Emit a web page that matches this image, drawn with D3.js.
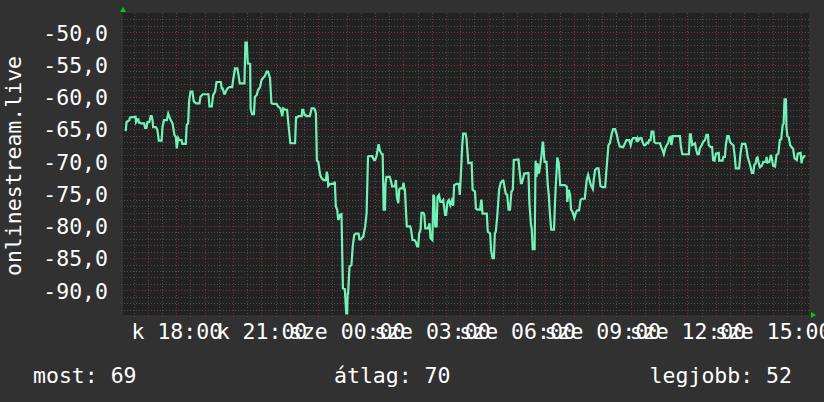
<!DOCTYPE html>
<html><head><meta charset="utf-8">
<script src="https://cdn.jsdelivr.net/npm/d3@7"></script>
<style>html,body{margin:0;padding:0;background:#313131;} svg{display:block}</style>
</head><body>
<svg id="c" width="824" height="402"></svg>
<script>
// time = minutes since Tuesday (kedd) 00:00
const times = [973,975,981,982,994,995,998,1000,1001,1003,1005,1012,1014,1017,1019,1023,1026,1028,1030,1031,1037,1040,1043,1049,1051,1054,1060,1063,1068,1072,1076,1079,1081,1084,1086,1091,1093,1100,1102,1105,1107,1110,1114,1117,1122,1129,1131,1136,1148,1150,1155,1158,1162,1165,1174,1176,1178,1181,1183,1185,1188,1192,1198,1200,1204,1209,1211,1214,1224,1226,1229,1231,1236,1237,1240,1244,1246,1250,1253,1257,1260,1264,1267,1271,1274,1278,1281,1285,1292,1295,1300,1304,1306,1310,1314,1318,1321,1331,
1333,1336,1338,1345,1346,1348,1351,1353,1355,1362,1366,1371,1373,1375,1377,1380,1384,1387,1391,1396,1398,1400,1401,1405,1412,1414,1415,1417,1420,1422,1426,1429,1432,1436,1439,1441,1442,1443,1446,1450,1453,1456,1459,1465,1467,1470,1474,1475,1479,1482,1485,1487,1494,1498,1500,1503,1507,1508,1510,1514,1516,1518,1521,1522,1524,1531,1534,1536,1542,1544,1546,1549,1551,1553,1558,1560,1562,1563,1565,1567,1574,1576,1579,1583,1586,1589,1591,1593,1596,1598,1602,1604,1606,1612,1615,1617,1621,1623,1625,1627,1630,1632,1635,1638,1641,1644,1648,1650,1653,1656,1659,1662,1665,1667,1672,1677,1679,1681,1684,1686,1691,1693,1697,1704,
1706,1711,1713,1716,1722,1724,1725,1727,1736,1738,1743,1745,1748,1751,1753,1755,1758,1762,1765,1769,1771,1773,1776,1779,1782,1785,1788,1791,1793,1803,1805,1808,1810,1813,1815,1824,1826,1829,1831,1833,1837,1839,1841,1843,1846,1848,1852,1854,1855,1858,1862,1865,1867,1869,1872,1878,1880,1882,1885,1888,1891,1901,1905,1906,1909,1912,1914,1917,1921,1924,1927,1931,1934,1937,1943,1947,1950,1953,1956,1960,1962,1965,1968,1972,1974,1976,1980,1986,1989,1993,1996,2000,2003,2007,2010,2014,2017,2024,2028,2031,2037,2040,2043,2045,2051,2053,2055,2057,
2060,2063,2065,2068,2071,2074,2077,2079,2082,2084,2088,2090,2093,2102,2104,2107,2110,2113,2116,2119,2122,2124,2126,2129,2144,2146,2149,2163,2165,2167,2170,2176,2178,2181,2184,2186,2190,2193,2197,2200,2203,2205,2209,2212,2214,2217,2220,2226,2227,2234,2236,2239,2241,2244,2247,2250,2252,2257,2260,2262,2269,2272,2275,2282,2285,2287,2291,2293,2296,2299,2301,2304,2306,2308,2310,2313,2317,2320,2326,2327,2329,2333,2336,2338,2341,2345,2348,2352,2355,2358,2361,2363,2365,2368,2369,2371,2374,2377,2380,2383,2386,2391,2393,2399,2401,2403,2405,2407,2409];
const values = [-65.3,-63.9,-63.6,-63.2,-63.1,-63.9,-63.5,-63.5,-64.0,-64.0,-64.1,-64.1,-64.8,-64.8,-63.9,-63.9,-63.0,-63.0,-63.7,-64.7,-64.7,-65.1,-66.8,-66.8,-64.6,-63.6,-63.6,-62.6,-63.6,-64.1,-65.9,-66.2,-68.0,-66.4,-66.7,-66.7,-67.3,-67.3,-64.4,-64.1,-60.7,-59.2,-59.2,-60.7,-61.0,-61.0,-60.0,-59.6,-59.6,-61.5,-61.5,-59.7,-59.2,-57.7,-57.7,-58.7,-58.7,-59.5,-59.5,-59.1,-58.7,-58.5,-58.5,-57.4,-55.6,-55.6,-56.4,-57.9,-57.9,-51.6,-51.6,-54.8,-54.9,-61.8,-62.7,-62.7,-60.0,-59.7,-58.9,-58.5,-57.4,-57.0,-56.8,-56.1,-56.1,-57.1,-61.0,-61.1,-61.1,-61.5,-61.8,-63.0,-61.8,-62.0,-62.0,-65.1,-67.2,-67.2,
-63.2,-63.2,-63.0,-63.0,-62.0,-62.0,-62.8,-62.8,-63.0,-63.0,-61.8,-61.8,-62.0,-62.6,-69.9,-70.1,-72.1,-72.6,-72.9,-72.9,-71.6,-72.4,-73.8,-73.5,-73.5,-73.3,-73.3,-77.0,-77.5,-79.1,-78.3,-78.2,-89.7,-89.8,-93.6,-93.6,-90.5,-90.5,-86.3,-86.1,-83.0,-81.4,-81.2,-81.2,-82.1,-82.1,-81.7,-81.7,-80.1,-78.1,-69.3,-69.2,-69.2,-69.8,-69.8,-69.2,-67.5,-67.5,-68.3,-68.9,-68.9,-77.5,-77.5,-73.4,-72.4,-72.4,-73.2,-73.9,-73.9,-72.9,-75.5,-76.5,-74.4,-74.2,-74.2,-73.3,-74.4,-74.4,-77.3,-80.1,-80.1,-80.6,-82.2,-82.2,-82.5,-83.2,-83.2,-81.2,-80.6,-78.0,-78.0,-78.3,-80.4,-80.4,-79.6,-81.9,-82.2,-75.2,-75.5,-80.1,-80.1,-75.5,-75.2,-76.3,-76.3,-76.0,-78.3,-78.3,-76.3,-76.0,-76.8,-76.1,-76.9,-73.7,-73.5,-73.5,-75.2,-72.4,-67.7,-65.7,-65.7,-66.4,-70.3,-70.2,
-74.4,-74.7,-77.3,-77.5,-77.5,-76.1,-76.1,-78.1,-78.1,-80.9,-81.2,-83.7,-85.0,-85.0,-81.2,-80.9,-78.6,-74.4,-73.4,-73.0,-73.0,-73.8,-75.0,-75.2,-77.5,-77.5,-74.7,-74.4,-69.8,-69.7,-71.3,-73.4,-73.4,-72.6,-71.9,-71.8,-76.5,-79.6,-80.6,-83.6,-83.6,-69.9,-72.4,-70.3,-71.9,-71.1,-68.8,-67.1,-67.1,-70.1,-70.1,-73.9,-75.2,-77.8,-80.6,-80.6,-76.5,-73.4,-69.4,-70.3,-73.7,-73.7,-73.9,-76.3,-74.4,-75.2,-77.5,-77.8,-78.8,-78.0,-77.6,-77.6,-76.0,-75.8,-75.8,-72.9,-72.1,-72.9,-73.7,-74.3,-72.8,-71.3,-71.1,-71.1,-72.4,-73.8,-74.0,-74.0,-71.1,-67.5,-67.2,-65.7,-65.0,-65.0,-65.7,-67.0,-67.7,-67.8,-67.2,-66.7,-66.7,-67.5,-66.6,-66.4,-66.4,-67.0,-66.4,-66.7,
-66.4,-66.4,-67.0,-67.5,-67.5,-67.1,-67.2,-66.7,-66.7,-65.4,-65.4,-67.0,-67.2,-67.2,-67.7,-68.2,-68.9,-68.0,-67.5,-67.2,-66.3,-66.2,-67.5,-66.1,-66.1,-67.7,-68.9,-68.9,-65.8,-65.8,-67.5,-67.2,-68.1,-68.9,-68.9,-68.0,-67.5,-67.0,-66.7,-65.9,-65.9,-67.5,-67.8,-67.8,-69.8,-69.9,-68.8,-68.7,-69.9,-69.9,-69.3,-69.3,-67.5,-66.1,-66.1,-67.0,-67.2,-67.5,-69.3,-71.1,-71.1,-68.8,-67.3,-67.3,-68.2,-69.3,-70.3,-70.8,-71.8,-71.8,-70.6,-70.3,-69.5,-69.4,-70.1,-70.9,-70.7,-70.1,-70.1,-69.3,-70.2,-70.1,-69.0,-69.5,-70.7,-70.8,-69.0,-68.8,-66.7,-66.6,-64.4,-64.2,-60.4,-60.4,-64.6,-66.1,-66.3,-67.5,-67.8,-68.0,-69.5,-69.8,-68.8,-68.7,-70.3,-69.4,-69.4,-69.2,-69.2];

const xTickValues = [1080,1260,1440,1620,1800,1980,2160,2340];
const xTickLabels = ["k 18:00","k 21:00","sze 00:00","sze 03:00","sze 06:00","sze 09:00","sze 12:00","sze 15:00"];
const yTickValues = [-90,-85,-80,-75,-70,-65,-60,-55,-50];
const yAxisTitle = "onlinestream.live";
const legendLabels = ["most: 69","átlag: 70","legjobb: 52"];
const timeDomain = [967.4, 2416.7];
const valueDomain = [-93.83, -47.0];

const FONT = "'DejaVu Sans Mono', monospace";
const FS = "21.5px";
const svg = d3.select("#c");
const plot = {l:123, r:809, t:13, b:315};

const x = d3.scaleLinear().domain(timeDomain).range([plot.l, plot.r]);
const y = d3.scaleLinear().domain(valueDomain).range([plot.b, plot.t]);
const loc = d3.formatLocale({decimal:",", thousands:" ", grouping:[3], currency:["",""], minus:"-"});
const fmt = loc.format(".1f");

svg.append("rect").attr("width",824).attr("height",402).attr("fill","#313131");
svg.append("rect").attr("x",plot.l).attr("y",plot.t).attr("width",plot.r-plot.l).attr("height",plot.b-plot.t).attr("fill","#222222");

const g = svg.append("g");
const minorX = d3.range(Math.ceil(timeDomain[0]/30)*30, timeDomain[1], 30).filter(t=>t%60!==0);
const majorX = d3.range(Math.ceil(timeDomain[0]/60)*60, timeDomain[1], 60);
const minorY = d3.range(Math.ceil(valueDomain[0]), valueDomain[1], 1).filter(v=>v%5!==0);
const majorY = d3.range(Math.ceil(valueDomain[0]/5)*5, valueDomain[1], 5);
const minorCol = "#4d4d4d", majorCol = "#7a3535";
g.selectAll(".mx").data(minorX).join("line").attr("x1",d=>Math.round(x(d))+0.5).attr("x2",d=>Math.round(x(d))+0.5)
  .attr("y1",plot.t).attr("y2",plot.b+2).attr("stroke",minorCol).attr("stroke-dasharray","1,2");
g.selectAll(".my").data(minorY).join("line").attr("y1",d=>Math.round(y(d))+0.5).attr("y2",d=>Math.round(y(d))+0.5)
  .attr("x1",plot.l-2).attr("x2",plot.r).attr("stroke",minorCol).attr("stroke-dasharray","1,2");
g.selectAll(".Mx").data(majorX).join("line").attr("x1",d=>Math.round(x(d))+0.5).attr("x2",d=>Math.round(x(d))+0.5)
  .attr("y1",plot.t).attr("y2",plot.b+2).attr("stroke",majorCol).attr("stroke-dasharray","1,2");
g.selectAll(".My").data(majorY).join("line").attr("y1",d=>Math.round(y(d))+0.5).attr("y2",d=>Math.round(y(d))+0.5)
  .attr("x1",plot.l-2).attr("x2",plot.r).attr("stroke",majorCol).attr("stroke-dasharray","1,2");

const pts = times.map((t,i)=>[t, values[i]]);
svg.append("path").datum(pts)
  .attr("d", d3.line().x(d=>x(d[0])).y(d=>y(d[1])))
  .attr("fill","none").attr("stroke","#72f2b8").attr("stroke-width",2.2).attr("stroke-linejoin","miter");

svg.append("path").attr("d",`M${plot.l-3},${plot.t-1}L${plot.l+3},${plot.t-1}L${plot.l},${plot.t-6}Z`).attr("fill","#00d000");
svg.append("path").attr("d",`M${plot.r+2},${plot.b-3}L${plot.r+2},${plot.b+3}L${plot.r+7},${plot.b}Z`).attr("fill","#00d000");

const xAxis = d3.axisBottom(x).tickValues(xTickValues).tickFormat((d,i)=>xTickLabels[i]).tickSize(0).tickPadding(0);
const xa = svg.append("g").attr("transform",`translate(0,${plot.b})`).call(xAxis);
xa.select(".domain").remove();
xa.selectAll("text").attr("y",24).attr("dy",0).attr("fill","#ffffff").style("font-family",FONT).style("font-size",FS);

const yAxis = d3.axisLeft(y).tickValues(yTickValues).tickFormat(fmt).tickSize(0).tickPadding(0);
const ya = svg.append("g").attr("transform",`translate(108,0)`).call(yAxis);
ya.select(".domain").remove();
ya.selectAll("text").attr("x",0).attr("dy","0.36em").attr("fill","#ffffff").style("font-family",FONT).style("font-size",FS);

svg.append("text").attr("transform","translate(21,166) rotate(-90)").attr("text-anchor","middle")
  .attr("fill","#ffffff").style("font-family",FONT).style("font-size",FS).text(yAxisTitle);

const legendX = [33, 334, 792], legendAnchor = ["start","start","end"];
svg.selectAll(".leg").data(legendLabels).join("text").attr("x",(d,i)=>legendX[i]).attr("y",383)
  .attr("text-anchor",(d,i)=>legendAnchor[i]).attr("fill","#ffffff").style("font-family",FONT).style("font-size",FS).text(d=>d);
</script>
</body></html>
